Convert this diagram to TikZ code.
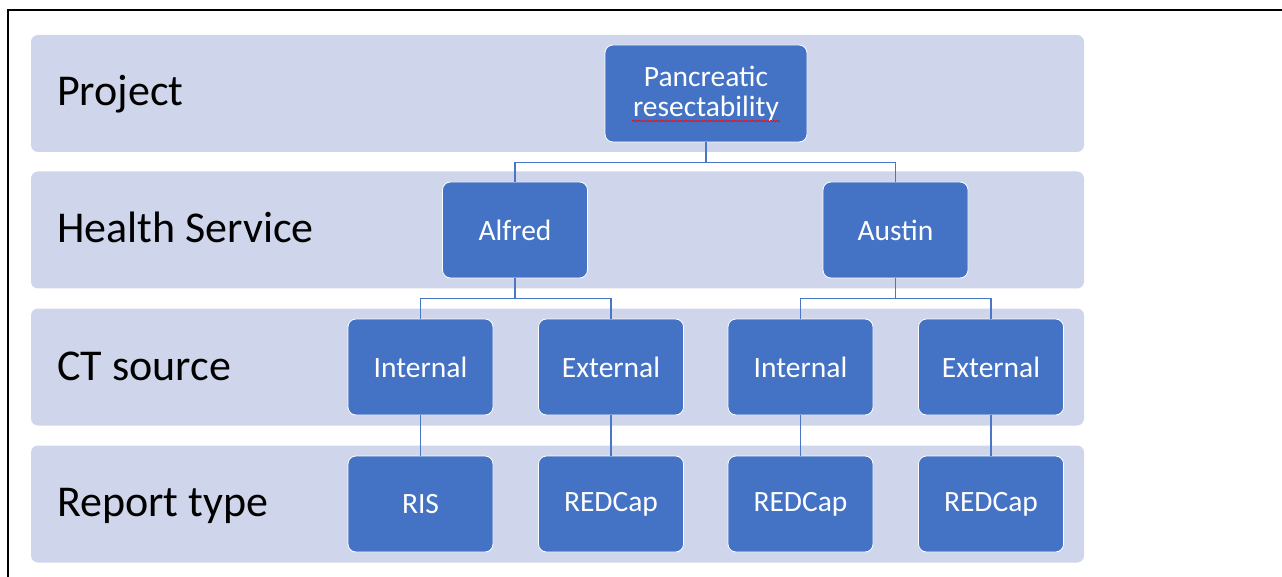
\documentclass[tikz,border=0pt]{standalone}
\usepackage{fontspec}
\setmainfont{Carlito}
\usetikzlibrary{decorations.pathmorphing}
\definecolor{bandcol}{HTML}{CFD5EA}
\definecolor{boxblue}{HTML}{4472C4}
\definecolor{conncol}{HTML}{4A76C6}
\tikzset{
  band/.style={fill=bandcol, rounded corners=7pt, minimum width=1053pt, minimum height=117pt, inner sep=0pt},
  rowlabel/.style={anchor=base west, inner sep=0pt, font=\fontsize{44}{50}\selectfont, text=black},
  box/.style={fill=boxblue, draw=white, line width=0.8pt, rounded corners=8pt, minimum width=145pt, minimum height=96pt, inner sep=0pt, text=white, font=\fontsize{29.5}{30}\selectfont, align=center},
  conn/.style={draw=conncol, line width=1.2pt},
}
\begin{document}
\begin{tikzpicture}[x=1pt,y=-1pt]
\useasboundingbox (0,0) rectangle (1282,577);
\draw[line width=2pt] (7.7,577) -- (7.7,10.3) -- (1282,10.3);
% bands
\node[band] (b1) at (557.5,93.5) {};
\node[band] (b2) at (557.5,230) {};
\node[band] (b3) at (557.5,367) {};
\node[band] (b4) at (557.5,504) {};
% row labels
\node[rowlabel] (l1) at (57,106) {Project};
\node[rowlabel] (l2) at (57,243) {Health Service};
\node[rowlabel] (l3) at (57,380) {CT source};
\node[rowlabel] (l4) at (57,516) {Report type};
% boxes
\node[box, minimum width=202pt, minimum height=97pt] (proj) at (706,93.5) {Pancreatic\\resectability};
\node[box] (alfred) at (515,230) {Alfred};
\node[box] (austin) at (895.5,230) {Austin};
\node[box] (int1) at (420.5,367) {Internal};
\node[box] (ext1) at (611,367) {External};
\node[box] (int2) at (800.5,367) {Internal};
\node[box] (ext2) at (991,367) {External};
\node[box] (ris) at (420.5,504) {RIS};
\node[box] (red1) at (611,504) {REDCap};
\node[box] (red2) at (800.5,504) {REDCap};
\node[box] (red3) at (991,504) {REDCap};
% spell-check underline
\coordinate (w1) at (632,121);
\coordinate (w2) at (780,121);
\draw[red, line width=0.6pt, decorate, decoration={snake, segment length=3pt, amplitude=0.8pt}] (w1) -- (w2);
% connectors
\draw[conn] (proj.south) -- ++(0,20) -| (alfred.north);
\draw[conn] (proj.south) -- ++(0,20) -| (austin.north);
\draw[conn] (alfred.south) -- ++(0,20) -| (int1.north);
\draw[conn] (alfred.south) -- ++(0,20) -| (ext1.north);
\draw[conn] (austin.south) -- ++(0,20) -| (int2.north);
\draw[conn] (austin.south) -- ++(0,20) -| (ext2.north);
\draw[conn] (int1.south) -- (ris.north);
\draw[conn] (ext1.south) -- (red1.north);
\draw[conn] (int2.south) -- (red2.north);
\draw[conn] (ext2.south) -- (red3.north);
\end{tikzpicture}
\end{document}
